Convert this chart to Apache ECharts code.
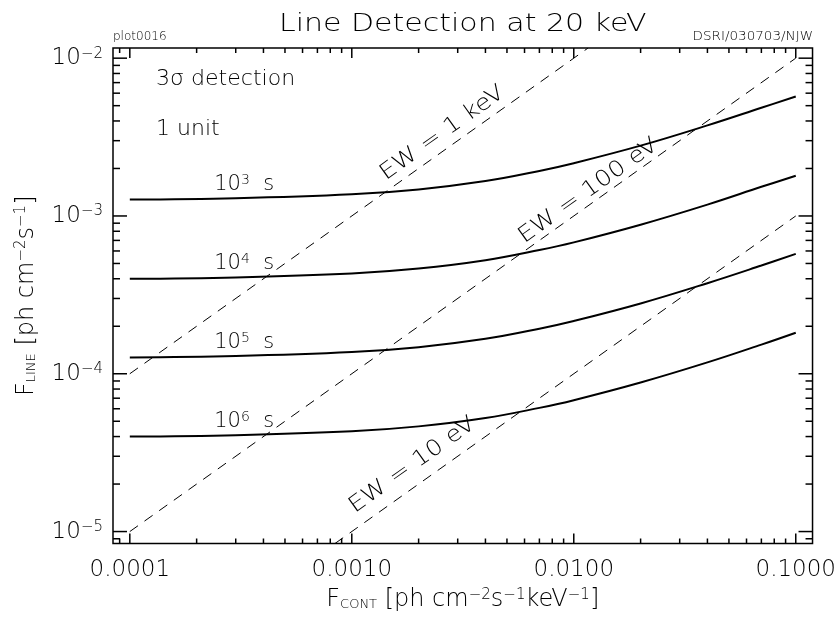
<!DOCTYPE html>
<html>
<head>
<meta charset="utf-8">
<script src="https://cdn.jsdelivr.net/npm/echarts@6/dist/echarts.min.js"></script>
<style>
  html, body { margin: 0; padding: 0; background: #fff; }
  #main { width: 839px; height: 617px; }
</style>
</head>
<body>
<div id="main"></div>
<script>
// Continuum flux samples [ph cm^-2 s^-1 keV^-1]
const fCont = [1e-4, 3e-4, 1e-3, 2e-3, 4e-3, 7e-3, 0.01, 0.02, 0.04, 0.07, 0.1];

// 3-sigma line flux sensitivity [ph cm^-2 s^-1] for each exposure
const fLine1e3 = [1.27e-3, 1.295e-3, 1.372e-3, 1.473e-3, 1.664e-3, 1.93e-3, 2.16e-3, 2.79e-3, 3.75e-3, 4.85e-3, 5.72e-3];
const fLine1e4 = [4.00e-4, 4.08e-4, 4.32e-4, 4.64e-4, 5.24e-4, 6.08e-4, 6.80e-4, 8.80e-4, 1.18e-3, 1.53e-3, 1.80e-3];
const fLine1e5 = [1.27e-4, 1.295e-4, 1.372e-4, 1.473e-4, 1.664e-4, 1.93e-4, 2.16e-4, 2.79e-4, 3.75e-4, 4.85e-4, 5.75e-4];
const fLine1e6 = [4.00e-5, 4.08e-5, 4.32e-5, 4.64e-5, 5.24e-5, 6.08e-5, 6.80e-5, 8.80e-5, 1.18e-4, 1.53e-4, 1.82e-4];
const exposureExp = ['3', '4', '5', '6'];

// Constant equivalent-width lines: [Fcont, Fline] end points
const ew1keV   = [[1e-4, 1e-4], [0.0116, 0.0116]];
const ew100eV  = [[1e-4, 1e-5], [0.1, 1e-2]];
const ew10eV   = [[8.4e-4, 8.4e-6], [0.1, 1e-3]];
const ewLabels = ['EW = 1 keV', 'EW = 100 eV', 'EW = 10 eV'];

// Axis ranges and tick labels
const xRange = [8.4e-5, 0.119];
const yRange = [8.4e-6, 0.0116];
const xTickValues = [1e-4, 1e-3, 1e-2, 1e-1];
const xTickLabels = ['0.0001', '0.0010', '0.0100', '0.1000'];
const yTickValues = [1e-5, 1e-4, 1e-3, 1e-2];
const yTickExps = ['\u22125', '\u22124', '\u22123', '\u22122'];
const minorMantissas = [2, 3, 4, 5, 6, 7, 8, 9];
const xMinorDecades = [1e-5, 1e-4, 1e-3, 1e-2];
const yMinorDecades = [1e-6, 1e-5, 1e-4, 1e-3];

const FONT = '"DejaVu Sans"';
const FW = 200;

function matchTick(values, v) {
  for (let i = 0; i < values.length; i++) {
    if (Math.abs(Math.log10(v) - Math.log10(values[i])) < 1e-6) return i;
  }
  return -1;
}

function minorTicks(decades, range) {
  const out = [];
  decades.forEach(d => minorMantissas.forEach(m => {
    const v = m * d;
    if (v > range[0] && v < range[1]) out.push(v);
  }));
  return out;
}

const X_MAJOR = 10, X_MINOR = 5, Y_MAJOR = 14, Y_MINOR = 7;

const supRich = {
  b: { fontSize: 23, fontFamily: FONT, fontWeight: FW, color: '#000' },
  s: { fontSize: 15, fontFamily: FONT, fontWeight: FW, color: '#000', padding: [0, 0, 9, 0] }
};

const axisNameRich = {
  t: { fontSize: 24, fontFamily: FONT, fontWeight: FW, color: '#000' },
  sub: { fontSize: 13, fontFamily: FONT, fontWeight: FW, color: '#000', padding: [10, 0, 0, 0] },
  sup: { fontSize: 15, fontFamily: FONT, fontWeight: FW, color: '#000', padding: [0, 0, 10, 0] }
};

function lineSeries(values) {
  return {
    type: 'line',
    data: fCont.map((x, i) => [x, values[i]]),
    showSymbol: false,
    smooth: 0.4,
    lineStyle: { color: '#000', width: 2 },
    silent: true,
    z: 3
  };
}

function dashSeries(pts) {
  return {
    type: 'line',
    data: pts,
    showSymbol: false,
    lineStyle: { color: '#000', width: 1, type: [10, 8] },
    silent: true,
    z: 2
  };
}

const chart = echarts.init(document.getElementById('main'), null, { renderer: 'canvas' });

const baseAxis = {
  type: 'log',
  logBase: 10,
  axisLine: { show: false },
  splitLine: { show: false },
  axisTick: { show: false }
};

chart.setOption({
  animation: false,
  backgroundColor: '#fff',
  grid: {
    left: 113, right: 26, top: 48, bottom: 73,
    show: true, borderColor: '#000', borderWidth: 1.5, backgroundColor: 'transparent'
  },
  xAxis: [
    Object.assign({}, baseAxis, {
      min: xRange[0], max: xRange[1], position: 'bottom',
      axisLabel: {
        margin: 15, fontSize: 23, fontFamily: FONT, fontWeight: FW, color: '#000',
        formatter: v => { const i = matchTick(xTickValues, v); return i < 0 ? '' : xTickLabels[i]; }
      },
      name: '{t|F}{sub|CONT}{t| [ph cm}{sup|\u22122}{t|s}{sup|\u22121}{t|keV}{sup|\u22121}{t|]}',
      nameLocation: 'middle',
      nameGap: 44,
      nameTextStyle: { rich: axisNameRich, fontSize: 24, fontFamily: FONT, fontWeight: FW, color: '#000' }
    }),
    Object.assign({}, baseAxis, {
      min: xRange[0], max: xRange[1], position: 'top',
      axisLabel: { show: false }
    })
  ],
  yAxis: [
    Object.assign({}, baseAxis, {
      min: yRange[0], max: yRange[1], position: 'left',
      axisLabel: {
        margin: 10,
        rich: supRich,
        formatter: v => { const i = matchTick(yTickValues, v); return i < 0 ? '' : '{b|10}{s|' + yTickExps[i] + '}'; }
      },
      name: '{t|F}{sub|LINE}{t| [ph cm}{sup|\u22122}{t|s}{sup|\u22121}{t|]}',
      nameLocation: 'middle',
      nameRotate: 90,
      nameGap: 74,
      nameTextStyle: { rich: axisNameRich, fontSize: 24, fontFamily: FONT, fontWeight: FW, color: '#000' }
    }),
    Object.assign({}, baseAxis, {
      min: yRange[0], max: yRange[1], position: 'right',
      axisLabel: { show: false }
    })
  ],
  series: [
    lineSeries(fLine1e3),
    lineSeries(fLine1e4),
    lineSeries(fLine1e5),
    lineSeries(fLine1e6),
    dashSeries(ew1keV),
    dashSeries(ew100eV),
    dashSeries(ew10eV)
  ]
});

// Tick marks and annotations placed through the axis scales
const toPx = p => chart.convertToPixel({ xAxisIndex: 0, yAxisIndex: 0 }, p);
const cornerLo = toPx([xRange[0], yRange[0]]);
const cornerHi = toPx([xRange[1], yRange[1]]);
const plotLeft = cornerLo[0], plotBottom = cornerLo[1];
const plotRight = cornerHi[0], plotTop = cornerHi[1];
const graphics = [];
const seg = (x1, y1, x2, y2) => ({
  type: 'line', silent: true, z: 10,
  shape: { x1: x1, y1: y1, x2: x2, y2: y2 },
  style: { stroke: '#000', lineWidth: 1.5 }
});

function xTick(v, len) {
  const x = toPx([v, yRange[0]])[0];
  graphics.push(seg(x, plotBottom, x, plotBottom - len), seg(x, plotTop, x, plotTop + len));
}
function yTick(v, len) {
  const y = toPx([xRange[0], v])[1];
  graphics.push(seg(plotLeft, y, plotLeft + len, y), seg(plotRight, y, plotRight - len, y));
}
xTickValues.forEach(v => xTick(v, X_MAJOR));
minorTicks(xMinorDecades, xRange).forEach(v => xTick(v, X_MINOR));
yTickValues.forEach(v => yTick(v, Y_MAJOR));
minorTicks(yMinorDecades, yRange).forEach(v => yTick(v, Y_MINOR));

const txt = (x, y, text, size, align, vAlign, extra) => Object.assign({
  type: 'text', x: x, y: y, silent: true,
  style: { text: text, fontSize: size, fontFamily: FONT, fontWeight: FW, fill: '#000', align: align, verticalAlign: vAlign }
}, extra || {});

graphics.push(txt((plotLeft + plotRight) / 2, 24, 'Line Detection at 20 keV', 25, 'center', 'middle', { scaleX: 1.2 }));
graphics.push(txt(113, 43, 'plot0016', 12, 'left', 'bottom'));
graphics.push(txt(813, 43, 'DSRI/030703/NJW', 12.5, 'right', 'bottom', { scaleX: 1.08 }));
graphics.push(txt(156, 80, '3\u03c3 detection', 21, 'left', 'middle', { scaleX: 1.05 }));
graphics.push(txt(156, 130, '1 unit', 21, 'left', 'middle', { scaleX: 1.05 }));

// Exposure labels above each curve
[fLine1e3, fLine1e4, fLine1e5, fLine1e6].forEach((vals, i) => {
  const p = toPx([2.4e-4, vals[0]]);
  graphics.push({
    type: 'text', x: p[0], y: p[1] - 15, silent: true,
    style: {
      text: '{b|10}{s|' + exposureExp[i] + '}{b|  s}',
      align: 'left', verticalAlign: 'middle',
      rich: {
        b: { fontSize: 21, fontFamily: FONT, fontWeight: FW, fill: '#000' },
        s: { fontSize: 14, fontFamily: FONT, fontWeight: FW, fill: '#000', padding: [0, 0, 9, 0] }
      }
    }
  });
});

// Equivalent-width labels along the dashed lines
[[ew1keV, 2.8e-3, 15], [ew100eV, 0.0125, 12], [ew10eV, 2.1e-3, 19]].forEach((cfg, i) => {
  const pts = cfg[0];
  const a = toPx(pts[0]), b = toPx(pts[1]);
  const dx = b[0] - a[0], dy = b[1] - a[1];
  const len = Math.hypot(dx, dy);
  const ang = Math.atan2(-dy, dx);
  const slope = (Math.log10(pts[1][1]) - Math.log10(pts[0][1])) / (Math.log10(pts[1][0]) - Math.log10(pts[0][0]));
  const xa = cfg[1];
  const ya = pts[0][1] * Math.pow(xa / pts[0][0], slope);
  const c = toPx([xa, ya]);
  const nx = dy / len, ny = -dx / len;
  graphics.push({
    type: 'text', x: c[0] + nx * cfg[2], y: c[1] + ny * cfg[2], rotation: ang, scaleX: 1.15, silent: true,
    style: { text: ewLabels[i], fontSize: 22, fontFamily: FONT, fontWeight: FW, fill: '#000', align: 'center', verticalAlign: 'middle' }
  });
});

chart.setOption({ graphic: graphics });
</script>
</body>
</html>
